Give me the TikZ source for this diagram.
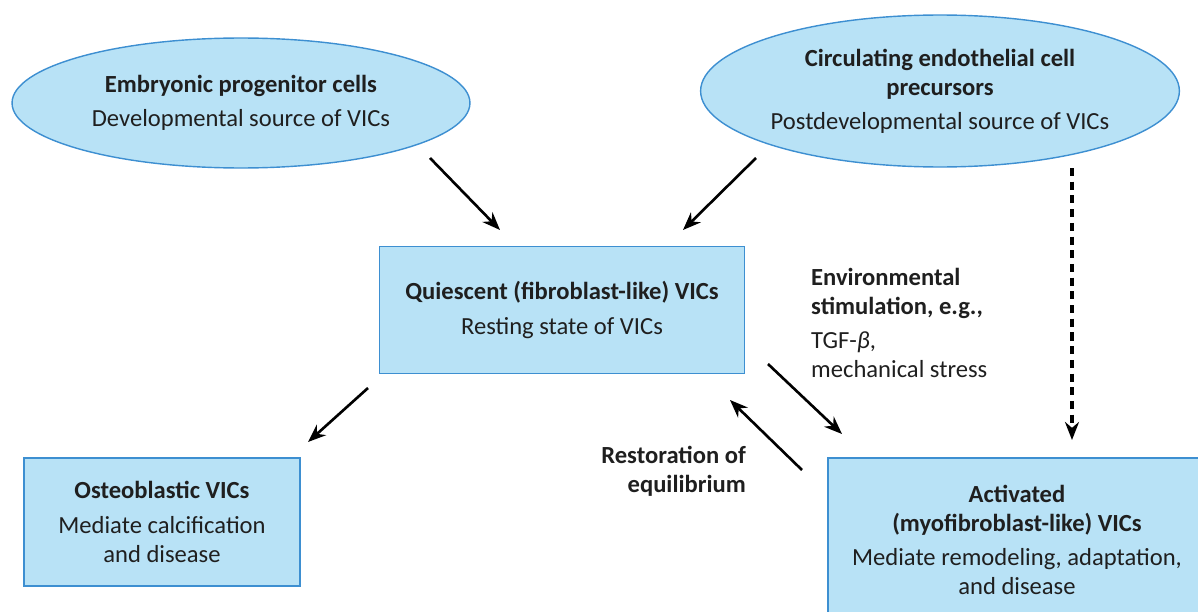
\documentclass[tikz,border=0pt]{standalone}
\usepackage{fontspec}
\setmainfont{Carlito}
\usetikzlibrary{shapes.geometric,arrows.meta}
\definecolor{cellfill}{HTML}{B8E2F6}
\definecolor{celledge}{HTML}{3D8FD1}
\tikzset{
  cell/.style={draw=celledge, fill=cellfill, line width=0.8pt, align=center,
    font=\fontsize{14}{16.5}\selectfont, text=black!88},
  oval/.style={cell, ellipse, inner sep=0pt},
  arr/.style={-{Stealth[length=0.36cm, width=0.28cm]}, line width=1.5pt},
  note/.style={font=\fontsize{14}{16.5}\selectfont, text=black!88}
}
\begin{document}
\begin{tikzpicture}[x=0.02cm, y=-0.02cm]
    \useasboundingbox (0,0) rectangle (1198,612);
		\node [oval, minimum width=9.16cm, minimum height=2.6cm](emb)at (241,103)
		  {\textbf{Embryonic progenitor cells}\\[3pt]Developmental source of VICs};
		\node [oval, minimum width=9.2cm, minimum height=3.04cm](circ)at (940,91)
		  {\textbf{Circulating endothelial cell}\\\textbf{precursors}\\[3pt]Postdevelopmental source of VICs};
		\node [cell, minimum width=7.3cm, minimum height=2.54cm](qui)at (562,310)
		  {\textbf{Quiescent (fibroblast-like) VICs}\\[3pt]Resting state of VICs};
		\node [cell, minimum width=5.52cm, minimum height=2.56cm](ost)at (162,522)
		  {\textbf{Osteoblastic VICs}\\[3pt]Mediate calcification\\and disease};
		\node [cell, minimum width=7.56cm, minimum height=3.28cm](act)at (1017,540)
		  {\textbf{Activated}\\\textbf{(myofibroblast-like) VICs}\\[3pt]Mediate remodeling, adaptation,\\and disease};
		\node [note, anchor=north west, align=left](env)at (805,262)
		  {\textbf{Environmental}\\\textbf{stimulation, e.g.,}\\[3pt]TGF-\textit{β},\\mechanical stress};
		\node [note, anchor=north east, align=right](rest)at (752,440)
		  {\textbf{Restoration of}\\\textbf{equilibrium}};
		% arrow ends
		\coordinate (e1) at (430,158); \coordinate (e2) at (500,230);
		\coordinate (c1) at (756,158); \coordinate (c2) at (683,230);
		\coordinate (q1) at (368,388); \coordinate (q2) at (308,442);
		\coordinate (s1) at (768,364); \coordinate (s2) at (842,434);
		\coordinate (r1) at (802,470); \coordinate (r2) at (730,400);
		\coordinate (d1) at (1072,168); \coordinate (d2) at (1072,440);
		\draw [arr](e1)--(e2);
		\draw [arr](c1)--(c2);
		\draw [arr](q1)--(q2);
		\draw [arr](s1)--(s2);
		\draw [arr](r1)--(r2);
		\draw [arr, line width=2.2pt, dash pattern=on 4.6pt off 3.2pt](d1)--(d2);
\end{tikzpicture}
\end{document}
